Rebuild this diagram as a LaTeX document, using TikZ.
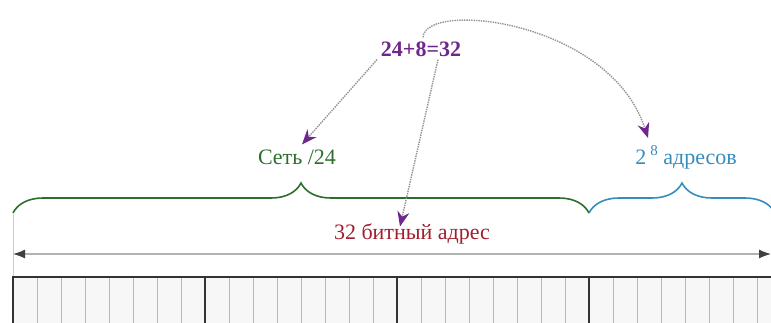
\documentclass[tikz,border=0pt]{standalone}
\usepackage{fontspec}
\setmainfont{Liberation Serif}
\usetikzlibrary{arrows.meta,decorations.pathreplacing}
\definecolor{netgreen}{RGB}{45,110,45}
\definecolor{hostblue}{RGB}{55,140,190}
\definecolor{bitred}{RGB}{160,30,45}
\definecolor{sumpurple}{RGB}{110,40,140}
\tikzset{
  lbl/.style={inner sep=1pt, font=\fontsize{22}{24}\selectfont},
  hint/.style={densely dotted, line width=1.4pt, gray!85, -{Stealth[length=15pt,width=12pt,color=sumpurple]}},
  bracestyle/.style={decorate, decoration={brace, amplitude=30pt}, line width=1.6pt},
  cellline/.style={gray!55, line width=0.8pt},
  byteline/.style={black!80, line width=1.6pt}
}
\begin{document}
\begin{tikzpicture}[x=1pt,y=-1pt]
\useasboundingbox (0,0) rectangle (771,322);
\clip (0,0) rectangle (771,322);
% labels
\node[lbl, font=\fontsize{22}{24}\selectfont\bfseries, text=sumpurple] (eq) at (421,49) {24+8=32};
\node[lbl, text=netgreen] (net) at (297,157) {Сеть /24};
\node[lbl, text=hostblue] (hosts) at (686,157) {2\kern4pt\raisebox{9pt}{\fontsize{15}{15}\selectfont 8}\ адресов};
\node[lbl, text=bitred] (bits) at (412,234) {32 битный адрес};
% braces
\coordinate (bl) at (13,213);
\coordinate (bm) at (589,213);
\coordinate (br) at (775,213);
\draw[bracestyle, netgreen] (bl) -- (bm);
\draw[bracestyle, hostblue] (bm) -- (br);
% faint left edge
\coordinate (el) at (13,277);
\draw[gray!40, line width=0.8pt] (bl) -- (el);
% length arrow
\coordinate (al) at (13,254);
\coordinate (ar) at (771,254);
\draw[gray!60, line width=1.2pt, {Latex[length=12pt,width=9pt,color=black!75]}-{Latex[length=12pt,width=9pt,color=black!75]}] (al) -- (ar);
% table
\fill[gray!6] (13,277) rectangle (781,330);
\foreach \i in {1,...,31} {
  \draw[cellline] (13+\i*24,277) -- (13+\i*24,330);
}
\foreach \i in {1,2,3} {
  \draw[byteline] (13+\i*192,277) -- (13+\i*192,330);
}
\draw[byteline] (13,330) -- (13,277) -- (781,277);
% hint arrows
\draw[hint] ([xshift=-44pt,yshift=-2pt]eq.south) -- ([xshift=5pt,yshift=4pt]net.north);
\draw[hint] ([xshift=17pt,yshift=-2pt]eq.south) -- ([xshift=-12pt,yshift=-4pt]bits.north);
\draw[hint] ([xshift=2pt,yshift=3pt]eq.north) .. controls (425,0) and (610,20) .. ([xshift=-38pt,yshift=6pt]hosts.north);
\end{tikzpicture}
\end{document}
